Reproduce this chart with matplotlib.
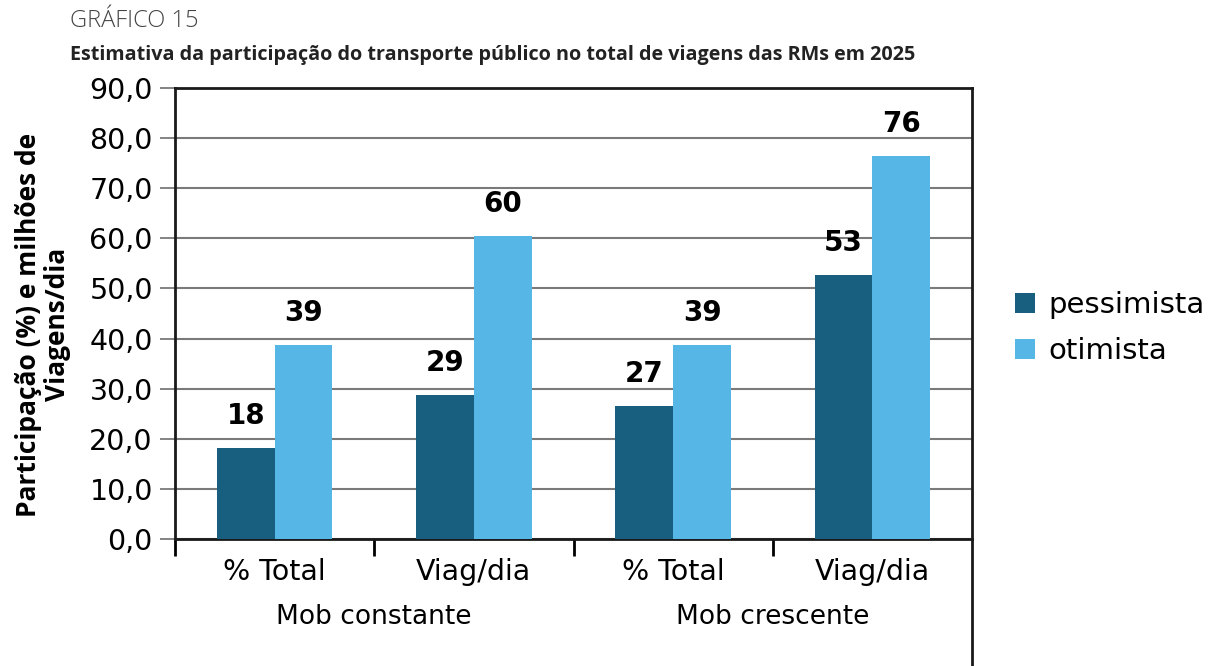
import matplotlib.pyplot as plt
import numpy as np
from matplotlib.ticker import FuncFormatter, MultipleLocator
from matplotlib.lines import Line2D

# data
categories = ['% Total', 'Viag/dia', '% Total', 'Viag/dia']
groups = ['Mob constante', 'Mob crescente']
pessimista = [18.2, 28.7, 26.6, 52.6]
otimista = [38.8, 60.4, 38.8, 76.4]
pess_labels = ['18', '29', '27', '53']
otim_labels = ['39', '60', '39', '76']

dark = '#175e7f'
light = '#56b6e6'
sans = 'DejaVu Sans'

fig = plt.figure(figsize=(12.16, 6.66), dpi=100)
ax = fig.add_axes([175/1216, 1 - 539/666, 797/1216, 451/666])

x = np.arange(len(categories))
width = 0.29
b1 = ax.bar(x - width/2, pessimista, width, color=dark, label='pessimista', zorder=3)
b2 = ax.bar(x + width/2, otimista, width, color=light, label='otimista', zorder=3)

for bars, labels in [(b1, pess_labels), (b2, otim_labels)]:
    for bar, lab in zip(bars, labels):
        ax.annotate(lab, (bar.get_x() + bar.get_width()/2, bar.get_height()),
                    xytext=(0, 13), textcoords='offset points', ha='center', va='bottom',
                    fontsize=20, fontweight='bold', family=sans)

ax.set_xlim(-0.5, len(categories) - 0.5)
ax.set_ylim(0, 90)
ax.yaxis.set_major_locator(MultipleLocator(10))
ax.yaxis.set_major_formatter(FuncFormatter(lambda v, p: f'{v:.1f}'.replace('.', ',')))
ax.grid(True, axis='y', color='#7a7a7a', linewidth=1.5, zorder=0)
ax.tick_params(axis='y', length=11, width=1.3, color='#7a7a7a', labelsize=20.5, pad=5)
for t in ax.get_yticklabels():
    t.set_family(sans)

# category labels and group separators
ax.set_xticks(x)
ax.set_xticklabels(categories, fontsize=20.5, family=sans)
ax.tick_params(axis='x', length=0, pad=14)
ax.set_xticks(np.arange(-0.5, len(categories), 1)[:-1], minor=True)
ax.tick_params(axis='x', which='minor', length=12, width=2, color='black')

for i, g in enumerate(groups):
    ax.text(2*i + 0.5, -0.172, g, transform=ax.get_xaxis_transform(),
            ha='center', va='center', fontsize=19, family=sans)

for s in ax.spines.values():
    s.set_linewidth(2)
    s.set_color('#1a1a1a')

# right border continues down to the bottom of the picture
fig.add_artist(Line2D([972/1216, 972/1216], [0, 1 - 539/666], transform=fig.transFigure,
                      color='#1a1a1a', linewidth=2))

ax.set_ylabel('Participação (%) e milhões de\nViagens/dia', fontsize=19, fontweight='bold',
              family='Open Sans', linespacing=1.1)
ax.yaxis.set_label_coords(-0.13, 0.475)

fig.text(70/1216, 1 - 21/666, 'GRÁFICO 15', fontsize=17, color='#444444', family='Open Sans',
         fontweight='light', va='center', ha='left')
fig.text(70/1216, 1 - 55/666, 'Estimativa da participação do transporte público no total de viagens das RMs em 2025',
         fontsize=14.2, fontweight='bold', color='#222222', family='Open Sans', va='center', ha='left')

fig.legend(loc='center left', bbox_to_anchor=(1015/1216, 1 - 328/666), frameon=False,
           prop={'family': sans, 'size': 21}, handlelength=0.68, handleheight=0.68,
           handletextpad=0.45, labelspacing=0.62, borderpad=0, borderaxespad=0)

fig.savefig('out.png', dpi=100)
